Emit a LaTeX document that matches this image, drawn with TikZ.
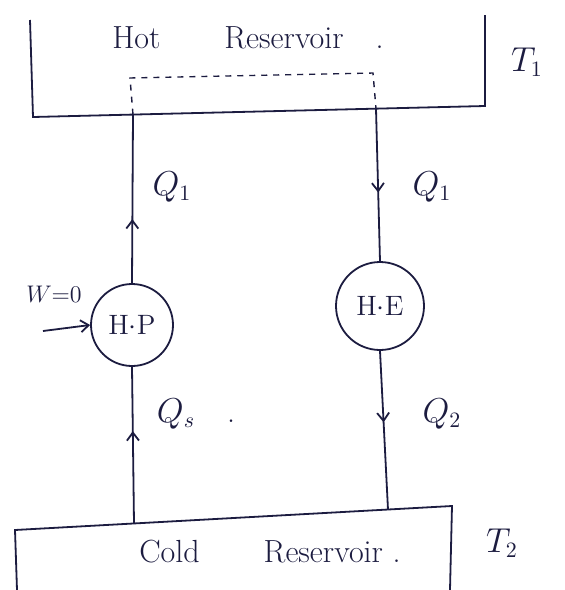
\documentclass[tikz,border=0pt]{standalone}
\usepackage{fontspec}
\usetikzlibrary{arrows.meta,decorations.markings}
\definecolor{ink}{RGB}{28,28,64}
\begin{document}
\begin{tikzpicture}[x=0.5pt,y=-0.5pt,
  ln/.style={draw=ink,line width=0.9pt},
  lbl/.style={text=ink,font=\fontsize{16}{19}\selectfont,inner sep=1pt},
  eng/.style={circle,draw=ink,line width=0.9pt,text=ink,font=\fontsize{14}{17}\selectfont,inner sep=0pt},
  midarrow/.style={ln,postaction={decorate},decoration={markings,mark=at position #1 with {\arrow[ink,line width=0.9pt]{Straight Barb[length=4pt,width=6pt]}}}}
]
\useasboundingbox (0,0) rectangle (564,590);
\fill[white] (0,0) rectangle (564,590);

% hot reservoir
\coordinate (htl) at (30,20);
\coordinate (hbl) at (33,117);
\coordinate (hbr) at (485,106);
\coordinate (htr) at (485,15);
\draw[ln] (htl) -- (hbl) -- (hbr) -- (htr);
\node[lbl] (hot) at (248,38) {Hot\qquad Reservoir\quad .};
\node[lbl] (t1) at (527,62) {$T_1$};
\coordinate (hl) at (133,114.6);
\coordinate (hr) at (376,108.7);
\coordinate (dl) at (130,78);
\coordinate (dr) at (373,73);
\draw[ln,dashed,line width=0.7pt] (hl) -- (dl) -- (dr) -- (hr);

% engines
\node[eng,minimum size=41pt] (hp) at (132,325) {H$\cdot$P};
\node[eng,minimum size=44pt] (he) at (380,306) {H$\cdot$E};

% cold reservoir
\coordinate (cbl) at (17,590);
\coordinate (ctl) at (15,530);
\coordinate (ctr) at (452,506);
\coordinate (cbr) at (450,590);
\draw[ln] (cbl) -- (ctl) -- (ctr) -- (cbr);
\coordinate (cl) at (134,523.4);
\coordinate (cr) at (388,509.6);
\node[lbl] (cold) at (270,552) {Cold\qquad Reservoir\ .};
\node[lbl] (t2) at (502,543) {$T_2$};

% connectors
\draw[midarrow=0.38] (hp.north) -- (hl);
\draw[midarrow=0.55] (hr) -- (he.north);
\draw[midarrow=0.59] (cl) -- (hp.south);
\draw[midarrow=0.45] (he.south) -- (cr);

\coordinate (w0) at (43,331);
\draw[ln,-{Straight Barb[length=4pt,width=6pt]}] (w0) -- (hp.west);
\node[lbl,font=\fontsize{12}{14}\selectfont] (w) at (54,294) {$W{=}0$};

% labels
\node[lbl] (q1l) at (172,187) {$Q_1$};
\node[lbl] (q1r) at (432,187) {$Q_1$};
\node[lbl] (qs) at (196,414) {$Q_s$\quad .};
\node[lbl] (q2) at (442,414) {$Q_2$};
\end{tikzpicture}
\end{document}
